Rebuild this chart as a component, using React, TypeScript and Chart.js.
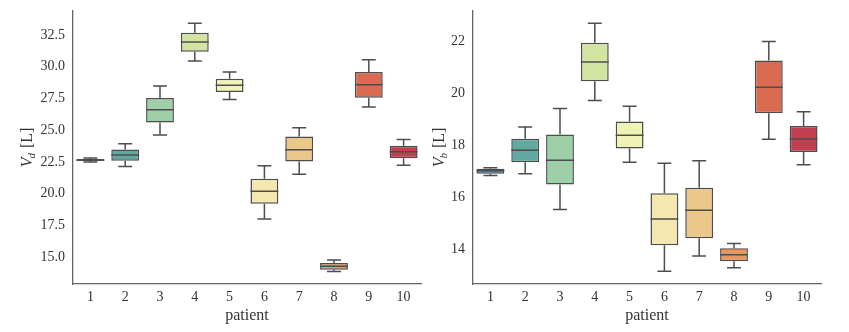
import React, { useEffect, useRef } from "react";
import { Chart, registerables } from "chart.js";

Chart.register(...registerables);

const patients = ["1", "2", "3", "4", "5", "6", "7", "8", "9", "10"];

// V_d [L] box statistics
const vdMin = [22.48, 22.14, 24.61, 30.45, 27.42, 18.0, 21.53, 13.85, 26.82, 22.24];
const vdQ1 = [22.56, 22.58, 25.61, 31.18, 28.0, 19.19, 22.53, 14.0, 27.55, 22.79];
const vdMed = [22.63, 23.03, 26.61, 31.95, 28.53, 20.19, 23.45, 14.27, 28.58, 23.29];
const vdQ3 = [22.72, 23.48, 27.53, 32.68, 29.05, 21.16, 24.5, 14.53, 29.58, 23.76];
const vdMax = [22.8, 23.92, 28.47, 33.42, 29.58, 22.19, 25.19, 14.77, 30.55, 24.27];
const vdTicks = [15.0, 17.5, 20.0, 22.5, 25.0, 27.5, 30.0, 32.5];

// V_b [L] box statistics
const vbMin = [16.84, 16.91, 15.53, 19.73, 17.35, 13.15, 13.74, 13.29, 18.24, 17.26];
const vbQ1 = [16.91, 17.35, 16.49, 20.47, 17.88, 14.15, 14.42, 13.54, 19.24, 17.75];
const vbMed = [17.03, 17.81, 17.43, 21.21, 18.39, 15.16, 15.5, 13.79, 20.24, 18.25];
const vbQ3 = [17.1, 18.26, 18.42, 21.96, 18.92, 16.16, 16.37, 14.04, 21.27, 18.75];
const vbMax = [17.14, 18.71, 19.42, 22.71, 19.51, 17.31, 17.41, 14.22, 22.0, 19.3];
const vbTicks = [14, 16, 18, 20, 22];

const boxColors = [
  "#4a7fb3",
  "#5fa9a0",
  "#9dcfa8",
  "#d2e4a0",
  "#eff3b6",
  "#f4e8b0",
  "#ecc78a",
  "#e8975e",
  "#da6a50",
  "#c0404f",
];

const LINE = "#4d4d4d";
const TEXT = "#333333";
const SERIF = "'Liberation Serif', 'Times New Roman', serif";

type BoxProps = {
  left: number;
  width: number;
  yAxisWidth: number;
  padRight: number;
  padTop: number;
  yMin: number;
  yMax: number;
  ticks: number[];
  decimals: number;
  sub: string;
  labelX: number;
  mins: number[];
  q1: number[];
  med: number[];
  q3: number[];
  maxs: number[];
};

function BoxChart(p: BoxProps) {
  const ref = useRef<HTMLCanvasElement | null>(null);
  useEffect(() => {
    if (!ref.current) return;
    const whiskerPlugin = {
      id: "whiskers",
      afterDatasetsDraw(chart: any) {
        const ctx = chart.ctx;
        const y = chart.scales.y;
        const meta = chart.getDatasetMeta(0);
        meta.data.forEach((bar: any, i: number) => {
          const x = bar.x;
          const w = bar.width;
          const yMed = y.getPixelForValue(p.med[i]);
          const yQ1 = y.getPixelForValue(p.q1[i]);
          const yQ3 = y.getPixelForValue(p.q3[i]);
          const yLo = y.getPixelForValue(p.mins[i]);
          const yHi = y.getPixelForValue(p.maxs[i]);
          ctx.save();
          ctx.strokeStyle = LINE;
          ctx.lineWidth = 1.5;
          ctx.beginPath();
          ctx.moveTo(x - w / 2, yMed);
          ctx.lineTo(x + w / 2, yMed);
          ctx.moveTo(x, yQ3);
          ctx.lineTo(x, yHi);
          ctx.moveTo(x - w / 4, yHi);
          ctx.lineTo(x + w / 4, yHi);
          ctx.moveTo(x, yQ1);
          ctx.lineTo(x, yLo);
          ctx.moveTo(x - w / 4, yLo);
          ctx.lineTo(x + w / 4, yLo);
          ctx.stroke();
          ctx.restore();
        });
      },
    };
    const yLabelPlugin = {
      id: "ylabel",
      afterDraw(chart: any) {
        const ctx = chart.ctx;
        const ca = chart.chartArea;
        const cy = (ca.top + ca.bottom) / 2;
        const bigFont = `italic 16px ${SERIF}`;
        const subFont = `italic 11px ${SERIF}`;
        const restFont = `16px ${SERIF}`;
        const rest = " [L]";
        ctx.save();
        ctx.fillStyle = TEXT;
        ctx.font = bigFont;
        const wV = ctx.measureText("V").width;
        ctx.font = subFont;
        const wS = ctx.measureText(p.sub).width;
        ctx.font = restFont;
        const wR = ctx.measureText(rest).width;
        const total = wV + wS + wR;
        ctx.translate(p.labelX, cy);
        ctx.rotate(-Math.PI / 2);
        ctx.textBaseline = "middle";
        ctx.textAlign = "left";
        let xx = -total / 2;
        ctx.font = bigFont;
        ctx.fillText("V", xx, 0);
        xx += wV;
        ctx.font = subFont;
        ctx.fillText(p.sub, xx - 1, 4);
        xx += wS;
        ctx.font = restFont;
        ctx.fillText(rest, xx, 0);
        ctx.restore();
      },
    };
    const chart = new Chart(ref.current, {
      type: "bar",
      data: {
        labels: patients,
        datasets: [
          {
            data: p.q1.map((v, i) => [v, p.q3[i]]) as any,
            backgroundColor: boxColors,
            borderColor: LINE,
            borderWidth: 1.5,
            borderSkipped: false,
            barPercentage: 0.8,
            categoryPercentage: 1,
          },
        ],
      },
      options: {
        responsive: false,
        animation: false,
        devicePixelRatio: 1,
        layout: { padding: { left: 0, right: p.padRight, top: p.padTop, bottom: 0 } },
        plugins: { legend: { display: false }, tooltip: { enabled: false } },
        scales: {
          x: {
            type: "category",
            offset: true,
            grid: { display: false, drawTicks: false },
            border: { display: true, color: "#666666", width: 1.3 },
            ticks: { color: TEXT, font: { family: SERIF, size: 14 }, padding: 5 },
            title: {
              display: true,
              text: "patient",
              color: TEXT,
              font: { family: SERIF, size: 16 },
              padding: { top: 0, bottom: 7 },
            },
            afterFit: (s: any) => {
              s.height = 48;
              s.paddingLeft = 0;
              s.paddingRight = 0;
            },
          },
          y: {
            type: "linear",
            min: p.yMin,
            max: p.yMax,
            grid: { display: false, drawTicks: false },
            border: { display: true, color: "#666666", width: 1.3 },
            ticks: {
              color: TEXT,
              font: { family: SERIF, size: 14 },
              padding: 8,
              callback: (v: any) => Number(v).toFixed(p.decimals),
            },
            afterBuildTicks: (s: any) => {
              s.ticks = p.ticks.map((v) => ({ value: v }));
            },
            afterFit: (s: any) => {
              s.width = p.yAxisWidth;
              s.paddingTop = 0;
              s.paddingBottom = 0;
            },
          },
        },
      },
      plugins: [whiskerPlugin, yLabelPlugin],
    });
    return () => chart.destroy();
  }, []);
  return (
    <canvas
      ref={ref}
      width={p.width}
      height={332}
      style={{ position: "absolute", left: p.left, top: 0, width: p.width, height: 332 }}
    />
  );
}

export default function App() {
  return (
    <div style={{ position: "fixed", left: 0, top: 0, width: 849, height: 332, background: "#fff" }}>
      <BoxChart
        left={0}
        width={425}
        yAxisWidth={73}
        padRight={4}
        padTop={11}
        yMin={12.87}
        yMax={34.39}
        ticks={vdTicks}
        decimals={1}
        sub="d"
        labelX={28}
        mins={vdMin}
        q1={vdQ1}
        med={vdMed}
        q3={vdQ3}
        maxs={vdMax}
      />
      <BoxChart
        left={425}
        width={424}
        yAxisWidth={48}
        padRight={28}
        padTop={11}
        yMin={12.66}
        yMax={23.18}
        ticks={vbTicks}
        decimals={0}
        sub="b"
        labelX={15}
        mins={vbMin}
        q1={vbQ1}
        med={vbMed}
        q3={vbQ3}
        maxs={vbMax}
      />
    </div>
  );
}
